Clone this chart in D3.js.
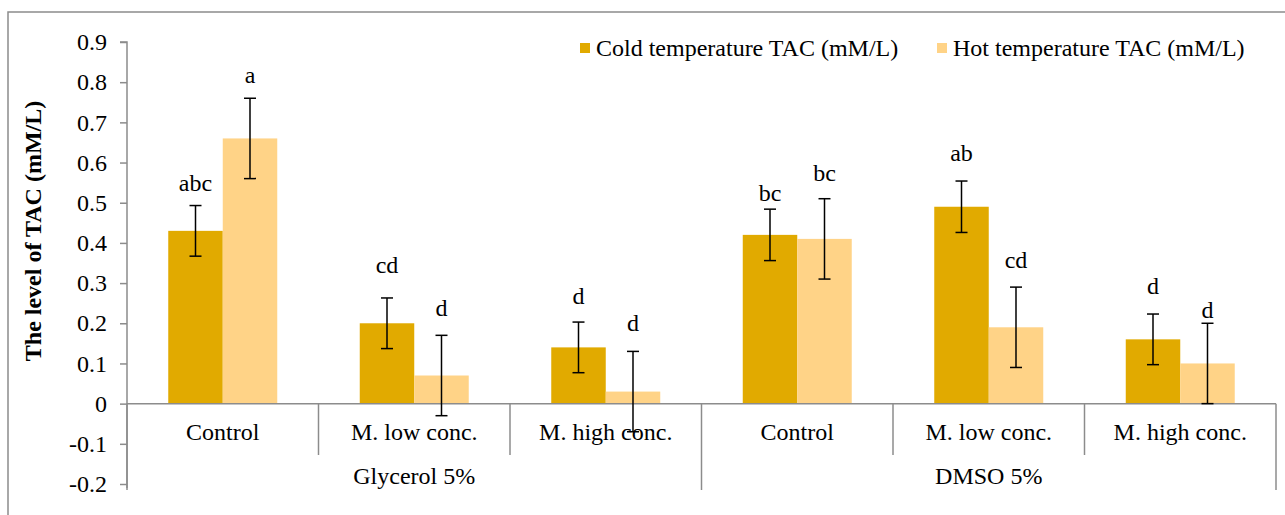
<!DOCTYPE html>
<html>
<head>
<meta charset="utf-8">
<script src="https://cdn.jsdelivr.net/npm/d3@7"></script>
<style>
  html, body { margin: 0; padding: 0; background: #fff; }
  svg text { font-family: "Liberation Serif", "Tinos", "DejaVu Serif", serif; }
</style>
</head>
<body>
<svg id="chart" width="1285" height="515"></svg>
<script>
// ---- data ----
const groups = ["Glycerol 5%", "DMSO 5%"];
const subcats = ["Control", "M. low conc.", "M. high conc."];
const seriesNames = ["Cold temperature TAC (mM/L)", "Hot temperature TAC (mM/L)"];
const coldValues = [0.43, 0.20, 0.14, 0.42, 0.49, 0.16];
const hotValues = [0.66, 0.07, 0.03, 0.41, 0.19, 0.10];
const coldErrors = [0.063, 0.063, 0.063, 0.064, 0.064, 0.063];
const hotErrors = [0.10, 0.10, 0.10, 0.10, 0.10, 0.10];
const coldLetters = ["abc", "cd", "d", "bc", "ab", "d"];
const hotLetters = ["a", "d", "d", "bc", "cd", "d"];
const coldLetterPos = [0.529, 0.324, 0.249, 0.504, 0.603, 0.274];
const hotLetterPos = [0.798, 0.219, 0.180, 0.554, 0.337, 0.212];
const yTicks = [0.9, 0.8, 0.7, 0.6, 0.5, 0.4, 0.3, 0.2, 0.1, 0, -0.1, -0.2];
const yTitle = "The level of TAC (mM/L)";

const colors = ["#E1AA00", "#FFD387"];
const FONT = 24;
const FAMILY = "'Liberation Serif', Tinos, 'DejaVu Serif', serif";

const svg = d3.select("#chart");
const mLeft = 127, mRight = 1276, mTop = 42, mBottom = 484;

// frame
svg.append("rect").attr("x", 8).attr("y", 12).attr("width", 1300).attr("height", 520)
  .attr("fill", "none").attr("stroke", "#8c8c8c").attr("stroke-width", 1.5);

const y = d3.scaleLinear().domain([-0.2, 0.9]).range([mBottom, mTop]);
const cats = d3.range(groups.length * subcats.length);
const x0 = d3.scaleBand().domain(cats).range([mLeft, mRight]).paddingInner(0).paddingOuter(0);
const x1 = d3.scaleBand().domain([0, 1]).range([0, x0.bandwidth()]).paddingInner(0).paddingOuter(0.757);

// y axis
const yAxis = d3.axisLeft(y).tickValues(yTicks).tickSize(7).tickPadding(13)
  .tickFormat(d => d === 0 ? "0" : d.toFixed(1));
const gy = svg.append("g").attr("transform", `translate(${mLeft},0)`).call(yAxis);
gy.attr("font-family", FAMILY).attr("font-size", FONT);
gy.select(".domain").attr("stroke", "#8c8c8c").attr("stroke-width", 1.5)
  .attr("d", `M-7,${y(0.9)}H0V${mBottom + 4}`);
gy.selectAll(".tick line").attr("stroke", "#8c8c8c").attr("stroke-width", 1.5);
gy.selectAll(".tick text").attr("font-size", FONT).attr("fill", "#000")
  .attr("font-family", FAMILY);

// y title
svg.append("text")
  .attr("transform", `translate(41,231) rotate(-90)`)
  .attr("text-anchor", "middle").attr("font-size", FONT).attr("font-weight", "bold")
  .attr("font-family", FAMILY)
  .text(yTitle);

// bars
const seriesVals = [coldValues, hotValues];
const seriesErr = [coldErrors, hotErrors];
const seriesLetters = [coldLetters, hotLetters];
const seriesLetterPos = [coldLetterPos, hotLetterPos];

seriesVals.forEach((vals, s) => {
  svg.append("g").selectAll("rect").data(vals).join("rect")
    .attr("x", (d, i) => x0(i) + x1(s))
    .attr("width", x1.bandwidth())
    .attr("y", d => y(Math.max(0, d)))
    .attr("height", d => Math.abs(y(d) - y(0)))
    .attr("fill", colors[s]);
});

// category axis (zero line + dividers)
const axisColor = "#8c8c8c";
svg.append("line").attr("x1", mLeft).attr("x2", mRight).attr("y1", y(0)).attr("y2", y(0))
  .attr("stroke", axisColor).attr("stroke-width", 1.5);
const divs = d3.range(cats.length + 1);
svg.append("g").selectAll("line").data(divs).join("line")
  .attr("x1", i => i < cats.length ? x0(i) : mRight)
  .attr("x2", i => i < cats.length ? x0(i) : mRight)
  .attr("y1", y(0))
  .attr("y2", i => (i % subcats.length === 0) ? 490 : 455)
  .attr("stroke", axisColor).attr("stroke-width", 1.5);

// sub-category labels
svg.append("g").selectAll("text").data(cats).join("text")
  .attr("x", i => x0(i) + x0.bandwidth() / 2)
  .attr("y", 440)
  .attr("text-anchor", "middle").attr("font-size", FONT).attr("font-family", FAMILY)
  .text(i => subcats[i % subcats.length]);
// group labels
svg.append("g").selectAll("text").data(groups).join("text")
  .attr("x", (g, gi) => {
    const a = x0(gi * subcats.length);
    const endIdx = gi * subcats.length + subcats.length;
    const b = endIdx < cats.length ? x0(endIdx) : mRight;
    return (a + b) / 2;
  })
  .attr("y", 484)
  .attr("text-anchor", "middle").attr("font-size", FONT).attr("font-family", FAMILY)
  .text(g => g);

// error bars + letters
seriesVals.forEach((vals, s) => {
  const g = svg.append("g");
  vals.forEach((v, i) => {
    const cx = x0(i) + x1(s) + x1.bandwidth() / 2;
    const e = seriesErr[s][i];
    const yt = y(v + e), yb = y(v - e);
    g.append("line").attr("x1", cx).attr("x2", cx).attr("y1", yt).attr("y2", yb)
      .attr("stroke", "#000").attr("stroke-width", 1.5);
    [yt, yb].forEach(yy => g.append("line").attr("x1", cx - 6).attr("x2", cx + 6)
      .attr("y1", yy).attr("y2", yy).attr("stroke", "#000").attr("stroke-width", 1.5));
    g.append("text").attr("x", cx).attr("y", y(seriesLetterPos[s][i]))
      .attr("text-anchor", "middle").attr("font-size", FONT).attr("font-family", FAMILY)
      .text(seriesLetters[s][i]);
  });
});

// legend
const legendX = [580, 937];
seriesNames.forEach((n, s) => {
  svg.append("rect").attr("x", legendX[s]).attr("y", 43).attr("width", 10).attr("height", 10)
    .attr("fill", colors[s]);
  svg.append("text").attr("x", legendX[s] + 16).attr("y", 56).attr("font-size", FONT)
    .attr("font-family", FAMILY)
    .text(n);
});
</script>
</body>
</html>
